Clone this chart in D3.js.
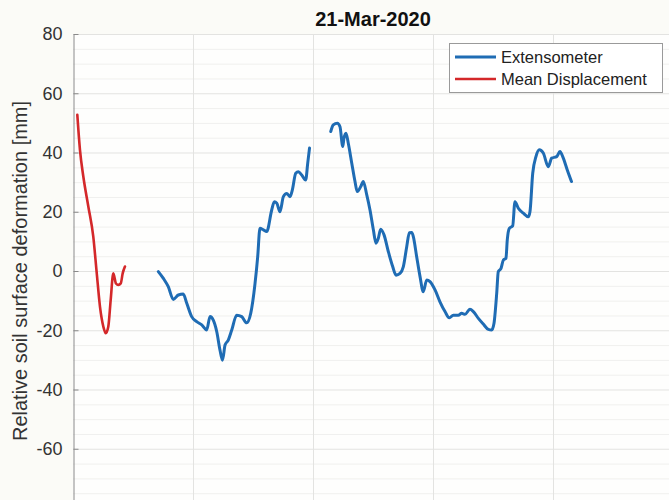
<!DOCTYPE html>
<html>
<head>
<meta charset="utf-8">
<script src="https://cdn.jsdelivr.net/npm/d3@7"></script>
<style>
  html, body { margin: 0; padding: 0; background: #fbfbf7; }
  svg { display: block; }
  text { font-family: "Liberation Sans", Arial, Helvetica, sans-serif; }
</style>
</head>
<body>
<svg id="chart" width="669" height="500"></svg>
<script>
// ---- data -------------------------------------------------------------
const chartTitle = "21-Mar-2020";
const yAxisLabel = "Relative soil surface deformation [mm]";
const yTickValues = [-80, -60, -40, -20, 0, 20, 40, 60, 80];
const xTickValues = [0, 1, 2, 3, 4, 5];
const seriesNames = ["Extensometer", "Mean Displacement"];

// Mean displacement (short record at the start)
const meanX = [0.036, 0.058, 0.086, 0.128, 0.169, 0.198, 0.225, 0.253, 0.273, 0.294,
               0.314, 0.336, 0.358, 0.378, 0.398, 0.414, 0.433];
const meanY = [52.7, 40.9, 31.9, 21.7, 11.6, -0.8, -12.1, -18.8, -21.0, -18.8,
               -9.8, -0.8, -4.2, -4.7, -4.2, -0.8, 1.5];

// Extensometer record (NaN marks the data gap)
const extX = [0.711, 0.753, 0.794, 0.836, 0.878, 0.919, 0.948, 0.989, 1.031, 1.073,
              1.114, 1.142, 1.169, 1.198, 1.225, 1.246, 1.267, 1.294, 1.323, 1.364,
              1.406, 1.447, 1.481, 1.517, 1.539, 1.558, 1.586, 1.614, 1.656, 1.678,
              1.698, 1.725, 1.753, 1.781, 1.808, 1.828, 1.856, 1.878, 1.906, 1.939,
              1.956, 1.971,
              2.06,
              2.148, 2.169, 2.203, 2.225, 2.248, 2.258, 2.275, 2.294, 2.323, 2.350,
              2.369, 2.398, 2.419, 2.448, 2.475, 2.503, 2.525, 2.544, 2.564, 2.592,
              2.628, 2.664, 2.692, 2.725, 2.753, 2.781, 2.803, 2.823, 2.836, 2.864,
              2.892, 2.919, 2.948, 2.975, 3.017, 3.058, 3.100, 3.136, 3.169, 3.211,
              3.239, 3.267, 3.308, 3.336, 3.378, 3.419, 3.461, 3.489, 3.508, 3.531,
              3.544, 3.567, 3.586, 3.608, 3.619, 3.636, 3.664, 3.683, 3.711, 3.753,
              3.794, 3.808, 3.831, 3.858, 3.886, 3.919, 3.961, 3.989, 4.031, 4.058,
              4.086, 4.119, 4.154];
const extY = [-0.2, -2.5, -5.3, -9.6, -8.1, -7.8, -10.9, -15.4, -17.1, -18.2,
              -19.9, -15.4, -16.6, -20.5, -26.7, -30.1, -25.0, -23.3, -19.9, -14.9,
              -15.4, -17.5, -14.3, -4.2, 4.8, 14.4, 13.9, 13.3, 20.6, 23.4,
              22.9, 20.0, 25.1, 26.2, 25.1, 27.4, 33.0, 33.5, 32.4, 30.7,
              36.4, 41.5,
              NaN,
              47.1, 49.3, 49.9, 48.7, 42.0, 44.8, 46.5, 43.1, 36.4, 30.2,
              26.8, 28.5, 30.2, 25.7, 20.6, 13.9, 9.4, 11.0, 14.1, 12.2,
              6.5, 1.5, -1.4, -0.8, 1.5, 8.2, 12.9, 13.0, 11.6, 4.8,
              -1.9, -7.0, -3.0, -3.6, -6.4, -10.4, -13.7, -15.8, -14.9, -14.9,
              -14.3, -14.6, -12.9, -13.7, -16.0, -17.9, -19.7, -19.9, -17.7, -7.5,
              -0.2, 0.9, 3.7, 4.3, 10.5, 14.4, 15.2, 23.4, 21.2, 19.5,
              18.3, 20.0, 33.0, 38.6, 40.9, 39.8, 35.2, 38.1, 38.6, 40.3,
              38.1, 34.1, 30.2];

// ---- layout -----------------------------------------------------------
const plot = { left: 73, right: 673, top: 34, bottom: 508 };
const colors = { ext: "#1f6cb4", mean: "#d4282a" };

const svg = d3.select("#chart");

const x = d3.scaleLinear().domain([0, 5]).range([plot.left, plot.right]);
const y = d3.scaleLinear().domain([-80, 80]).range([plot.bottom, plot.top]);

// plot background
svg.append("rect")
  .attr("x", plot.left).attr("y", plot.top)
  .attr("width", plot.right - plot.left).attr("height", plot.bottom - plot.top)
  .attr("fill", "#fefefd");

// minor horizontal grid (every 5 mm)
const minorY = d3.range(-80, 81, 5).filter(v => v % 20 !== 0);
svg.append("g").selectAll("line").data(minorY).join("line")
  .attr("x1", plot.left).attr("x2", plot.right)
  .attr("y1", d => y(d) + 0.5).attr("y2", d => y(d) + 0.5)
  .attr("stroke", "#f0f0ee").attr("stroke-width", 1);

// major grid
svg.append("g").selectAll("line").data(yTickValues).join("line")
  .attr("x1", plot.left).attr("x2", plot.right)
  .attr("y1", d => y(d) + 0.5).attr("y2", d => y(d) + 0.5)
  .attr("stroke", "#e3e3e1").attr("stroke-width", 1);
svg.append("g").selectAll("line").data(xTickValues.slice(1)).join("line")
  .attr("x1", d => x(d) + 0.5).attr("x2", d => x(d) + 0.5)
  .attr("y1", plot.top).attr("y2", plot.bottom)
  .attr("stroke", "#e3e3e1").attr("stroke-width", 1);

// y axis (plain hyphen for negative labels)
const yAxis = d3.axisLeft(y).tickValues(yTickValues)
  .tickFormat(d => String(d))
  .tickSizeInner(-5).tickSizeOuter(0).tickPadding(11);
const gy = svg.append("g").attr("transform", `translate(${plot.left + 0.5},0)`).call(yAxis);
gy.select(".domain").attr("stroke", "#8a8a8a");
gy.selectAll(".tick line").attr("stroke", "#8a8a8a");
gy.selectAll(".tick text")
  .attr("fill", "#333")
  .style("font-size", "18px")
  .style("font-family", "'Liberation Sans', Arial, sans-serif");

// x axis ticks along the bottom edge (no labels)
const xAxis = d3.axisBottom(x).tickValues(xTickValues).tickFormat("").tickSizeInner(-5).tickSizeOuter(0);
const gx = svg.append("g").attr("transform", `translate(0,${plot.bottom})`).call(xAxis);
gx.select(".domain").attr("stroke", "#8a8a8a");
gx.selectAll(".tick line").attr("stroke", "#8a8a8a");

// y label
svg.append("text")
  .attr("transform", `translate(27,${(plot.top + plot.bottom) / 2}) rotate(-90)`)
  .attr("text-anchor", "middle")
  .attr("fill", "#333")
  .style("font-size", "20px")
  .text(yAxisLabel);

// title
svg.append("text")
  .attr("x", (plot.left + plot.right) / 2).attr("y", 26)
  .attr("text-anchor", "middle")
  .attr("fill", "#111")
  .style("font-size", "20px").style("font-weight", "bold")
  .text(chartTitle);

// series
const line = d3.line()
  .defined(d => !isNaN(d.v))
  .x(d => x(d.t)).y(d => y(d.v))
  .curve(d3.curveMonotoneX);

const extData = extX.map((t, i) => ({ t, v: extY[i] }));
const meanData = meanX.map((t, i) => ({ t, v: meanY[i] }));

svg.append("path").datum(extData)
  .attr("d", line).attr("fill", "none")
  .attr("stroke", colors.ext).attr("stroke-width", 3)
  .attr("stroke-linejoin", "round").attr("stroke-linecap", "round");

svg.append("path").datum(meanData)
  .attr("d", line).attr("fill", "none")
  .attr("stroke", colors.mean).attr("stroke-width", 2.6)
  .attr("stroke-linejoin", "round").attr("stroke-linecap", "round");

// legend
const legend = svg.append("g").attr("transform", "translate(449,43)");
legend.append("rect")
  .attr("x", 0.5).attr("y", 0.5).attr("width", 213).attr("height", 49)
  .attr("fill", "#ffffff").attr("stroke", "#9a9a9a").attr("stroke-width", 1);
const items = [
  { name: seriesNames[0], color: colors.ext, w: 3 },
  { name: seriesNames[1], color: colors.mean, w: 2.6 }
];
const rows = legend.selectAll("g.item").data(items).join("g")
  .attr("class", "item")
  .attr("transform", (d, i) => `translate(0,${14 + i * 22})`);
rows.append("line")
  .attr("x1", 6).attr("x2", 47).attr("y1", 0).attr("y2", 0)
  .attr("stroke", d => d.color).attr("stroke-width", d => d.w);
rows.append("text")
  .attr("x", 52).attr("y", 0).attr("dy", "0.35em")
  .attr("fill", "#222")
  .style("font-size", "16.5px")
  .text(d => d.name);
</script>
</body>
</html>
